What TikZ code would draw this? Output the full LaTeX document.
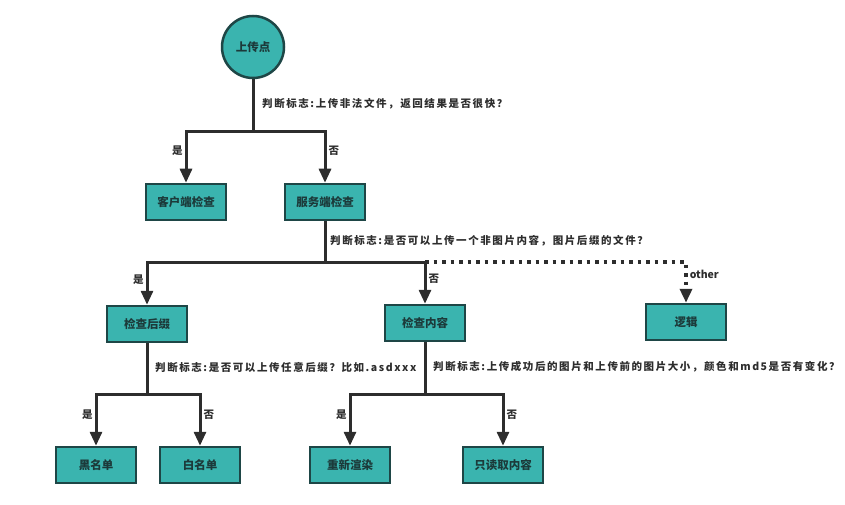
\documentclass[tikz,border=0pt]{standalone}
\usepackage{fontspec}
\setmainfont{Noto Sans CJK SC}
\newfontfamily\notefont[LetterSpace=15]{Noto Sans CJK SC}
\usetikzlibrary{arrows.meta}
\definecolor{boxfill}{RGB}{58,180,175}
\definecolor{boxline}{RGB}{30,70,70}
\definecolor{boxtext}{RGB}{28,58,58}
\definecolor{wire}{RGB}{45,45,45}
\tikzset{
  box/.style={draw=boxline, line width=2.5pt, fill=boxfill, text=boxtext,
    minimum width=80pt, minimum height=36pt, inner sep=0pt, font=\fontsize{11.5}{13}\selectfont\bfseries},
  wire/.style={draw=wire, line width=3pt},
  arr/.style={wire, -{Triangle[width=12pt,length=14pt]}},
  dotarr/.style={arr, line width=3.5pt, dash pattern=on 3.5pt off 5pt},
  note/.style={text=wire, inner sep=0pt, anchor=west, font=\notefont\fontsize{10.5}{12}\selectfont\bfseries},
  yn/.style={text=wire, inner sep=2pt, font=\fontsize{10.5}{12}\selectfont\bfseries}
}
\begin{document}
\begin{tikzpicture}[x=1pt,y=-1pt]
    \useasboundingbox (0,0) rectangle (845,505);

    \node[box, circle, minimum size=62pt] (upload) at (253,47) {上传点};
    \node[box] (client) at (186,202) {客户端检查};
    \node[box] (server) at (325,202) {服务端检查};
    \node[box] (suffix) at (147,324) {检查后缀};
    \node[box] (content) at (425,323) {检查内容};
    \node[box] (logic) at (686,322) {逻辑};
    \node[box] (black) at (96,465) {黑名单};
    \node[box] (white) at (200,465) {白名单};
    \node[box] (render) at (350,465) {重新渲染};
    \node[box] (readonly) at (503,465) {只读取内容};

    \coordinate (s1) at (253,132);
    \coordinate (s2) at (325,262);
    \coordinate (s3) at (147,394);
    \coordinate (s4) at (425,394);

    \draw[wire] (upload) -- (s1);
    \draw[arr] (s1) -| node[yn, pos=0.68, left] {是} (client.north);
    \draw[arr] (s1) -| node[yn, pos=0.68, right] {否} (server.north);
    \node[note] (q1) at (262,104) {判断标志:上传非法文件，返回结果是否很快？};

    \draw[dotarr] (content.north |- s2) -| node[yn, pos=0.65, right] {other} (logic.north);
    \draw[wire] (server) -- (s2);
    \draw[arr] (s2) -| node[yn, pos=0.71, left] {是} (suffix.north);
    \draw[arr] (s2) -| node[yn, pos=0.7, right] {否} (content.north);
    \node[note] (q2) at (330,241) {判断标志:是否可以上传一个非图片内容，图片后缀的文件？};

    \draw[wire] (suffix) -- (s3);
    \draw[arr] (s3) -| node[yn, pos=0.7, left] {是} (black.north);
    \draw[arr] (s3) -| node[yn, pos=0.7, right] {否} (white.north);
    \node[note] (q3) at (155,367) {判断标志:是否可以上传任意后缀？比如.asdxxx};

    \draw[wire] (content) -- (s4);
    \draw[arr] (s4) -| node[yn, pos=0.7, left] {是} (render.north);
    \draw[arr] (s4) -| node[yn, pos=0.7, right] {否} (readonly.north);
    \node[note] (q4) at (433,367) {判断标志:上传成功后的图片和上传前的图片大小，颜色和md5是否有变化？};

  \end{tikzpicture}
\end{document}
